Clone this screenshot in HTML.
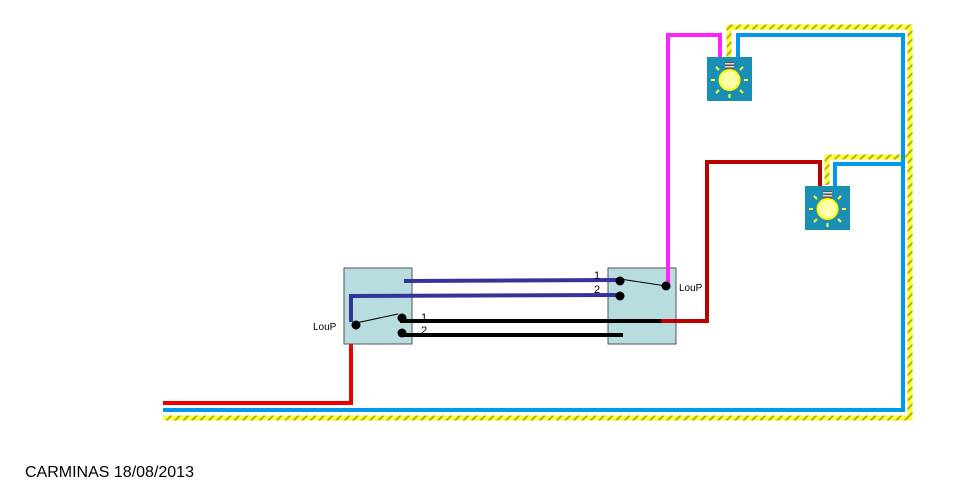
<!DOCTYPE html>
<html><head><meta charset="utf-8"><style>
html,body{margin:0;padding:0;background:#fff;width:960px;height:491px;overflow:hidden}
svg{display:block}
text{font-family:"Liberation Sans",sans-serif}
</style></head><body>
<svg width="960" height="491" viewBox="0 0 960 491" xmlns="http://www.w3.org/2000/svg">
<defs>
<pattern id="hatch" width="6" height="6" patternUnits="userSpaceOnUse" patternTransform="rotate(45)">
<rect width="6" height="6" fill="#ffff33"/><rect width="2" height="6" fill="#b0b020"/>
</pattern>
<g id="lamp">
<rect x="0" y="0" width="45" height="44" fill="#1a8fb5"/>
<rect x="18" y="5" width="9" height="8" fill="#555"/>
<rect x="18" y="6" width="9" height="1.5" fill="#ddd"/><rect x="18" y="9" width="9" height="1.5" fill="#ddd"/>
<circle cx="22.5" cy="23" r="10" fill="#ffffaa" stroke="#ffff00" stroke-width="2"/>
<g stroke="#ffff44" stroke-width="2">
<line x1="8" y1="23" x2="4" y2="23"/><line x1="37" y1="23" x2="41" y2="23"/>
<line x1="22.5" y1="37" x2="22.5" y2="41"/>
<line x1="12" y1="13" x2="9" y2="10"/><line x1="33" y1="13" x2="36" y2="10"/>
<line x1="12" y1="33" x2="9" y2="36"/><line x1="33" y1="33" x2="36" y2="36"/>
</g>
</g>
</defs>
<g fill="none" stroke="url(#hatch)" stroke-width="5">
<polyline points="163,418 910,418 910,27 729,27 729,58"/>
<polyline points="910,157 827,157 827,185"/>
</g>
<g fill="none" stroke="#0099ee" stroke-width="4">
<polyline points="163,410 903,410 903,35 738,35 738,58"/>
<polyline points="903,164 835,164 835,186"/>
</g>
<polyline points="163,403 351,403 351,325" fill="none" stroke="#ee0000" stroke-width="4"/>
<rect x="344" y="268" width="68" height="76" fill="#b7dde0" stroke="#555" stroke-width="1"/>
<rect x="608" y="268" width="68" height="76" fill="#b7dde0" stroke="#555" stroke-width="1"/>
<polyline points="668,286 668,35 720,35 720,58" fill="none" stroke="#ff22ff" stroke-width="4"/>
<polyline points="661,321 707,321 707,162 820,162 820,186" fill="none" stroke="#bb0000" stroke-width="4"/>
<g stroke="#333399" stroke-width="4" fill="none">
<line x1="404" y1="281" x2="620" y2="280"/>
<polyline points="351,322 351,296 620,295"/>
</g>
<g stroke="#000" stroke-width="4" fill="none">
<line x1="400" y1="321" x2="661" y2="321"/>
<line x1="404" y1="335" x2="623" y2="335"/>
</g>
<g fill="#000">
<circle cx="620" cy="281" r="4.5"/><circle cx="620" cy="296" r="4.5"/><circle cx="666" cy="286" r="4.5"/>
<circle cx="402" cy="318" r="4.5"/><circle cx="402" cy="333" r="4.5"/><circle cx="356" cy="325" r="4.5"/>
</g>
<line x1="620" y1="279" x2="666" y2="286" stroke="#000" stroke-width="1"/>
<line x1="356" y1="323" x2="398" y2="314" stroke="#000" stroke-width="1"/>
<use href="#lamp" x="707" y="57"/>
<use href="#lamp" x="805" y="186"/>
<g font-size="11" fill="#000">
<text x="594" y="279">1</text><text x="594" y="293">2</text>
<text x="421" y="321">1</text><text x="421" y="334">2</text>
<text x="313" y="330" font-size="10">LouP</text><text x="679" y="291" font-size="10">LouP</text>
</g>
<text x="25" y="477" font-size="16" fill="#000">CARMINAS  18/08/2013</text>
</svg>
</body></html>
